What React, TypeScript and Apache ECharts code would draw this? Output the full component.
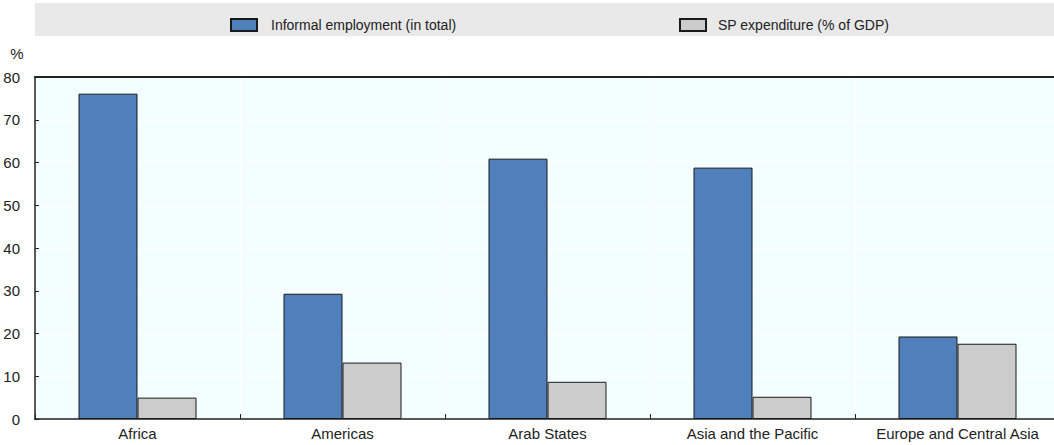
import React, { useEffect, useRef } from "react";
import * as echarts from "echarts";

const categories = ["Africa", "Americas", "Arab States", "Asia and the Pacific", "Europe and Central Asia"];
const informalEmployment = [76.1, 29.3, 60.9, 58.8, 19.3];
const spExpenditure = [5.0, 13.2, 8.7, 5.2, 17.6];
const seriesNames = ["Informal employment (in total)", "SP expenditure (% of GDP)"];

const FONT = "'Liberation Sans', Arial, sans-serif";

export default function App() {
  const ref = useRef<HTMLDivElement>(null);
  useEffect(() => {
    if (!ref.current) return;
    const chart = echarts.init(ref.current, undefined, { renderer: "svg" });
    chart.setOption({
      animation: false,
      textStyle: { fontFamily: FONT, color: "#222" },
      graphic: [
        { type: "rect", z: -10, shape: { x: 35, y: 3, width: 1019, height: 33 }, style: { fill: "#e9e9e9" } },
        { type: "text", x: 17, y: 53, style: { text: "%", fontSize: 15, fontFamily: FONT, fill: "#222", align: "center", verticalAlign: "middle" } },
      ],
      legend: [
        {
          data: [seriesNames[0]],
          left: 225,
          top: 13,
          itemWidth: 26,
          itemHeight: 12,
          icon: "rect",
          textStyle: { fontSize: 14, fontFamily: FONT, color: "#222", padding: [0, 0, 0, 9] },
        },
        {
          data: [seriesNames[1]],
          left: 674,
          top: 13,
          itemWidth: 26,
          itemHeight: 12,
          icon: "rect",
          textStyle: { fontSize: 14, fontFamily: FONT, color: "#222", padding: [0, 0, 0, 7] },
        },
      ],
      grid: {
        left: 35,
        top: 77,
        width: 1025,
        bottom: 26,
        show: true,
        backgroundColor: "#f2feff",
        borderWidth: 0,
        outerBoundsMode: "none",
        containLabel: false,
      },
      xAxis: [
        {
          type: "category",
          data: categories,
          axisLine: { lineStyle: { color: "#222", width: 1.5 } },
          axisTick: { show: true, inside: true, length: 5, lineStyle: { color: "#222" } },
          axisLabel: { fontSize: 15, fontFamily: FONT, color: "#222", margin: 7, interval: 0 },
          splitLine: { show: true, lineStyle: { color: "#ffffff", width: 1 } },
        },
        {
          type: "category",
          data: categories,
          position: "top",
          axisLine: { lineStyle: { color: "#222", width: 2 } },
          axisTick: { show: false },
          axisLabel: { show: false },
          splitLine: { show: false },
        },
      ],
      yAxis: {
        type: "value",
        min: 0,
        max: 80,
        interval: 10,
        axisLine: { show: true, lineStyle: { color: "#222", width: 1.5 } },
        axisTick: { show: true, inside: true, length: 4, lineStyle: { color: "#222" } },
        axisLabel: { fontSize: 15, fontFamily: FONT, color: "#222", margin: 15 },
        splitLine: { show: true, lineStyle: { color: "#ffffff", width: 1 } },
      },
      series: [
        {
          name: seriesNames[0],
          type: "bar",
          data: informalEmployment,
          barWidth: 59,
          barGap: "0%",
          itemStyle: { color: "#4f80bc", borderColor: "#1a1a1a", borderWidth: 1 },
        },
        {
          name: seriesNames[1],
          type: "bar",
          data: spExpenditure,
          barWidth: 59,
          barGap: "0%",
          itemStyle: { color: "#cccccc", borderColor: "#1a1a1a", borderWidth: 1 },
        },
      ],
    });
    return () => chart.dispose();
  }, []);
  return <div ref={ref} style={{ position: "absolute", left: 0, top: 0, width: 1054, height: 445 }} />;
}
